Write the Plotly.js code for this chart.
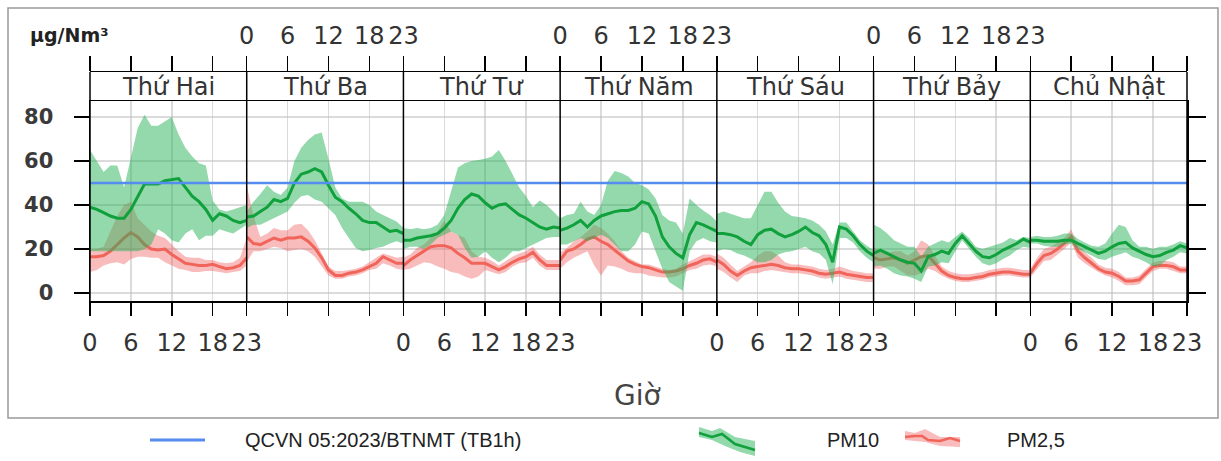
<!DOCTYPE html>
<html><head><meta charset="utf-8">
<script src="https://cdn.plot.ly/plotly-3.0.1.min.js"></script>
<style>html,body{margin:0;padding:0;background:#fff}#chart{width:1221px;height:461px}</style>
</head><body><div id="chart"></div>
<script>
const days = ["Thứ Hai","Thứ Ba","Thứ Tư","Thứ Năm","Thứ Sáu","Thứ Bảy","Chủ Nhật"];
const hours = [0,1,2,3,4,5,6,7,8,9,10,11,12,13,14,15,16,17,18,19,20,21,22,23];
const hourTickVals = [0,6,12,18,23];
const hourTickText = ["0","6","12","18","23"];
const yTickVals = [0,20,40,60,80];
const yTickText = ["0","20","40","60","80"];
const qcvnLimit = 50;
const legendNames = ["QCVN 05:2023/BTNMT (TB1h)","PM10","PM2,5"];

const pm10Mean = [
[39,38,36.5,35,34,34,38,44,49.5,49.5,49.5,51,51.5,52,48,44,41.5,38,33,36,35,33,32,33],
[34.5,35,37,39,42.5,41.5,43,50,54,55,56.5,55,49,43.5,41.5,38.5,36,33,32,32,30,28,28.5,27],
[24,24,25,25.5,26,27,29.5,33,38.5,42.5,45,44,41,38.5,40,40.5,38,35.5,34,32,30,29,30,29.5],
[28.5,29.5,31,33,30,33,35,36,37,37.5,37.5,38.5,41.5,40.5,35,25.5,21,18,16,26.5,32,31,29.5,28],
[27,27,26.5,25.5,23.5,22,26.5,28.5,29,27,25.5,26.5,28,30,27.5,26,22,14,30,29,26,22,19,17],
[18,19.5,18,16.5,15,14,13.5,10,16.5,17.5,19,18,22.5,26,22.5,19,16.5,16,17.5,19.5,21,22.5,24.5,23],
[24,24,23.5,23.5,23.5,24,24,22.5,21,19.5,18,19,21,22.5,23,20.5,19,17.5,16.5,17,18.5,19.5,21.5,20.5]
];
const pm10Upper = [
[65,60,55,58,58,48,62,75,81,76,76,78,80,72,66,62,59,58,42,38,37,38,39,40],
[37,41.5,45,49,46,44.5,48,60,66,69.5,72,73,61,48,43,41.5,41.5,41.5,40,37,35.5,34,32.5,29.5],
[29.5,29,29.5,29,29.5,31,35.5,46,57,59,60,60.5,61,62,65,60,54,48,44,39,42,40,37,34],
[34,35.5,36,41.5,37,35.5,40,51,55.5,54.5,53,50,49,47,43,35.5,33,32,27,43,40,37.5,35.5,32.5],
[36,37,36,35,34,34,40,46,46,41,37,35,34.5,34,33,31,28,22,32,32,28,24,21.5,19.5],
[31,29.5,27,24,22.5,21,21,16.5,21,22.5,24,23,25.5,28,25,21,20,21,22,23,25,24,25.5,25],
[25.5,26,25.5,25.5,26,27,27,24.5,23,21.5,21,22.5,27,31,30,24,21,21,20,21,21,22,23.5,22.5]
];
const pm10Lower = [
[19,19,19,19,19,19,19,19,20,22,29,27,24,23,27,29,24,26,26,29,28,27,29,31],
[29.5,31,31,32.5,34,35.5,37,41,44,44.5,42.5,41.5,38.5,35.5,29.5,25,20.5,19,19.5,20.5,21,22.5,23.5,22.5],
[20,21,21,20,22,25,26.5,28,26.5,20.5,16,16.5,19,16,14,16,19,19,20.5,22,23.5,25,25.5,25.5],
[22,22,23.5,25,23.5,25,26.5,25,22,19,19,22,28,27,19,11,5,3,1,19,23.5,25,23.5,23],
[19,20,19.5,18,17,15.5,14,14,15,17.5,18.5,19,20,21,19,18,15,4,25,25,23,19,16,14],
[12,12.5,11,9,8,7.5,6.5,5,12,12.5,14,13.5,19,24,20,16.5,13.5,12.5,13.5,15.5,17,19.5,21,20.5],
[22.5,22.5,21.5,21,21,22,22.5,20,18.5,17,15.5,15,16.5,17.5,18.5,16.5,15.5,14,12,12.5,15,16.5,18.5,18]
];
const pm25Mean = [
[16.5,16.5,17,19,22,25,27.5,25.5,22,20,19.5,20,17.5,15.5,13.5,13,12.5,12.5,13,12,11,11.5,12.5,16],
[25.5,22.5,22,23.5,25,24,25,25,25.5,23.5,20.5,16,10.5,8,8,9,9.5,10.5,12,13.5,16.5,15,13.5,13.5],
[12.5,15,17,19,21,21.5,21.5,20.5,18,16,13.5,13.5,13.5,12,10.5,12,14,15.5,16.5,18.5,15,12.5,12.5,12.5],
[15,19,20,22,24.5,25.5,23.5,22,19.5,17,14.5,13,12,11.5,10.5,9.5,9.5,10,11,12.5,13.5,15,15.5,14],
[15,13,10,8,10,11.5,12,12.5,13,12.5,11.5,11,11,10.5,10,9,8.5,9,9.5,8.5,8,7.5,7,7],
[16,15,15.5,16,15,13.5,15,16.5,17,13.5,10,8,7,6.5,6.5,7,7.5,8.5,9,9.5,9.5,9,8.5,8.5],
[9,13.5,17,18,20,22.5,25.5,19,16,13.5,11,9.5,9,7.5,5.5,5.5,6,9,12,12.5,12.5,12,10.5,10.5]
];
const pm25Upper = [
[20,20,21,28,35,40,41.5,34,31,28,26,25,22,19,16.5,16,16,15,15,14,13.5,14,16,25],
[49,35,25.5,27,29.5,28.5,28.5,31,31.5,28.5,24,18,12,10,10,10.5,11,12,14,16,18,17,16,16.5],
[16,17.5,20.5,22,25,28,33,28,26.5,25,19,16.5,16,14.5,12.5,14.5,16.5,18,19,21,17.5,15,15,15],
[18.5,20.5,23.5,25.5,28,31,29.5,27,23.5,19,16,14.5,13,13,12,11,10.5,11,13,14.5,16,17.5,17.5,16.5],
[18,16,13,10,12,14,17,19,19,17,14,13,13,12.5,12,11,10.5,11,12,11,10,9.5,9,9],
[21,19,18,19,19,17,19,24,22,17,12,10,9,8.5,8.5,9,9.5,10.5,11,11.5,11.5,11,10.5,10.5],
[11,16,20,21,23,25,29,22,18.5,16,13,11.5,11,9.5,7,7,8,11,14,14.5,14.5,14,12,12]
];
const pm25Lower = [
[9.5,10.5,12.5,13.5,14,13,15.5,16.5,16.5,16,16,14,12.5,11,10.5,9.5,9.5,10,10,9.5,9,9.5,10,12.5],
[14,19,19,20,21,20.5,19,19.5,20,19,16.5,12.5,8,6.5,6.5,7.5,8,9,10.5,11,13.5,12.5,11,10.5],
[10.5,11,12.5,14,13.5,12,11,9.5,9,7.5,6.5,7.5,10.5,9.5,8.5,9.5,12,13.5,14,16,12.5,10.5,10.5,10.5],
[11,14,16,17.5,19,12.5,8,12.5,12,11,9.5,9,9,8,7.5,7,7,7.5,9,10.5,11,12.5,13,12],
[11,9.5,7,5,8,9,9,10,10.5,10,9.5,9,9,8.5,8,7,6.5,7,7.5,6.5,6,5.5,5,5],
[11,11,12,12,10,8,8,9,11,10,8,6.5,5.5,5,5,5.5,6,7,7.5,8,8,7.5,7,7],
[7,11,14.5,15,17.5,20,23,16,13.5,11.5,9.5,8,7,5.5,3.5,3.5,4,7,10,11,11,10,9,9]
];

// ---- styling ----
const C = {
  pm10Line: "rgb(16,160,60)", pm10Fill: "rgba(40,180,90,0.5)",
  pm25Line: "rgb(240,100,90)", pm25Fill: "rgba(240,95,95,0.42)",
  qcvn: "rgb(85,140,240)", grid: "rgba(190,190,190,0.55)", text: "#333"
};
const FONT = "DejaVu Sans";
const W = 1221, H = 461, ML = 90, MR = 34, MT = 72, MB = 160;
const PW = W - ML - MR, PH = H - MT - MB;
const X = px => (px - ML) / PW;
const Y = py => (H - MB - py) / PH;
const yDomTop = Y(101);

const traces = [];
const rev = a => a.slice().reverse();
for (let d = 0; d < days.length; d++) {
  const xa = d === 0 ? "x" : "x" + (d + 1);
  const band = (up, lo, fill) => ({
    type: "scatter", mode: "lines", xaxis: xa, yaxis: "y",
    x: hours.concat(rev(hours)), y: up.concat(rev(lo)),
    fill: "toself", fillcolor: fill, line: {width: 0}, hoverinfo: "skip", showlegend: false
  });
  const line = (v, col) => ({
    type: "scatter", mode: "lines", xaxis: xa, yaxis: "y",
    x: hours, y: v, line: {color: col, width: 3}, hoverinfo: "skip", showlegend: false
  });
  traces.push(band(pm25Upper[d], pm25Lower[d], C.pm25Fill));
  traces.push(line(pm25Mean[d], C.pm25Line));
  traces.push(band(pm10Upper[d], pm10Lower[d], C.pm10Fill));
  traces.push(line(pm10Mean[d], C.pm10Line));
}
for (let d = 0; d < days.length; d++) {
  const xa = d === 0 ? "x" : "x" + (d + 1);
  traces.push({type: "scatter", mode: "lines", xaxis: xa, yaxis: "y",
    x: [hours[0], hours[hours.length - 1]], y: [qcvnLimit, qcvnLimit],
    line: {color: C.qcvn, width: 2.5}, hoverinfo: "skip", showlegend: false});
}
// dummy traces so the top (strip) axes and right y axis exist
for (let d = 0; d < days.length; d++) {
  traces.push({type: "scatter", mode: "lines", xaxis: "x" + (d + 8), yaxis: "y2",
    x: [null], y: [null], hoverinfo: "skip", showlegend: false});
}
traces.push({type: "scatter", mode: "lines", xaxis: "x7", yaxis: "y3",
  x: [null], y: [null], hoverinfo: "skip", showlegend: false});

const tickFont = {family: FONT, size: 24, color: C.text};
const layout = {
  width: W, height: H, margin: {l: ML, r: MR, t: MT, b: MB, pad: 0},
  paper_bgcolor: "#fff", plot_bgcolor: "rgba(0,0,0,0)", showlegend: false,
  yaxis: {domain: [0, yDomTop], range: [-3.64, 87.27], anchor: "x",
    tickvals: yTickVals, ticktext: yTickText, ticks: "outside", ticklen: 15, tickwidth: 1.5, tickcolor: "#000",
    showline: true, linecolor: "#000", linewidth: 1.5, showgrid: true, gridcolor: C.grid, gridwidth: 1.5,
    zeroline: false, tickfont: {family: FONT, size: 21, color: "#3a3a3a", weight: "bold"}, ticklabelstandoff: 16},
  yaxis2: {domain: [yDomTop, 1], range: [0, 1], anchor: "x8", visible: false},
  yaxis3: {overlaying: "y", side: "right", anchor: "x7", range: [-3.64, 87.27],
    tickvals: yTickVals, ticks: "outside", ticklen: 17, tickwidth: 1.5, tickcolor: "#000",
    showticklabels: false, showline: true, linecolor: "#000", linewidth: 1.5, showgrid: false, zeroline: false},
  annotations: [], shapes: []
};
for (let d = 0; d < days.length; d++) {
  const dom = [d / days.length, (d + 1) / days.length];
  layout["xaxis" + (d === 0 ? "" : d + 1)] = {
    domain: dom, range: [0, 23], anchor: "y", tickvals: hourTickVals, ticktext: hourTickText,
    ticks: "outside", ticklen: 13, tickwidth: 1.5, tickcolor: "#000",
    showticklabels: d % 2 === 0, tickfont: tickFont, ticklabelstandoff: 7,
    showline: true, mirror: true, linecolor: "#000", linewidth: 1.5,
    showgrid: true, gridcolor: C.grid, gridwidth: 1.5, zeroline: false
  };
  layout["xaxis" + (d + 8)] = {
    domain: dom, range: [0, 23], anchor: "y2", side: "top", tickvals: hourTickVals, ticktext: hourTickText,
    ticks: "outside", ticklen: 15, tickwidth: 1.5, tickcolor: "#000",
    showticklabels: d % 2 === 1, tickfont: tickFont, ticklabelstandoff: 2,
    showline: true, linecolor: "#000", linewidth: 1.5, showgrid: false, zeroline: false
  };
  layout.annotations.push({xref: "paper", yref: "paper", x: (d + 0.5) / days.length, y: Y(87),
    text: days[d], showarrow: false, xanchor: "center", yanchor: "middle",
    font: {family: FONT, size: 24, color: C.text}});
}
for (let k = 0; k <= days.length; k++) {
  layout.shapes.push({type: "line", xref: "paper", yref: "paper", x0: k / days.length, x1: k / days.length,
    y0: 0, y1: 1, line: {color: "#000", width: 1.5}});
}
// outer frame
layout.shapes.push({type: "rect", xref: "paper", yref: "paper", x0: X(8), x1: X(1218), y0: Y(418), y1: Y(8),
  line: {color: "#999", width: 1.5}, layer: "below"});
// unit label & axis title
layout.annotations.push({xref: "paper", yref: "paper", x: X(28), y: Y(35), xanchor: "left", yanchor: "middle",
  text: "µg/Nm³", showarrow: false, font: {family: FONT, size: 19, color: "#222", weight: "bold"}});
layout.annotations.push({xref: "paper", yref: "paper", x: X(637), y: Y(395), xanchor: "center", yanchor: "middle",
  text: "Giờ", showarrow: false, font: {family: FONT, size: 28, color: "#444"}});
// custom legend
const path = pts => "M" + pts.map(p => X(p[0]).toFixed(5) + "," + Y(p[1]).toFixed(5)).join("L");
layout.shapes.push({type: "path", xref: "paper", yref: "paper",
  path: path([[150, 440], [205, 440]]), line: {color: C.qcvn, width: 3}});
layout.shapes.push({type: "path", xref: "paper", yref: "paper",
  path: path([[699, 427], [712, 431], [720, 428], [735, 437], [755, 441], [755, 456], [740, 452], [725, 446], [712, 440], [699, 437]]) + "Z",
  fillcolor: C.pm10Fill, line: {width: 0}});
layout.shapes.push({type: "path", xref: "paper", yref: "paper",
  path: path([[699, 433], [712, 437], [722, 434], [735, 444], [755, 450]]), line: {color: C.pm10Line, width: 2.5}});
layout.shapes.push({type: "path", xref: "paper", yref: "paper",
  path: path([[905, 431], [915, 433], [925, 429], [940, 437], [960, 437], [960, 447], [940, 446], [925, 442], [915, 441], [905, 440]]) + "Z",
  fillcolor: C.pm25Fill, line: {width: 0}});
layout.shapes.push({type: "path", xref: "paper", yref: "paper",
  path: path([[905, 437], [915, 436], [922, 436], [928, 440], [940, 441], [950, 438], [960, 441]]), line: {color: C.pm25Line, width: 2.5}});
const legX = [243, 825, 1005];
legendNames.forEach((t, i) => layout.annotations.push({xref: "paper", yref: "paper", x: X(legX[i]), y: Y(440),
  xanchor: "left", yanchor: "middle", text: t, showarrow: false,
  font: {family: "Liberation Sans", size: 20, color: "#222"}}));

Plotly.newPlot("chart", traces, layout, {staticPlot: true, displayModeBar: false});
</script></body></html>
